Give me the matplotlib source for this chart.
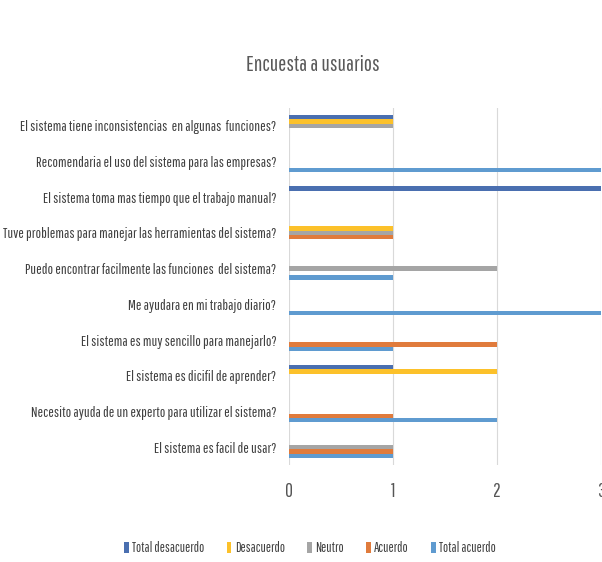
import numpy as np
import matplotlib.pyplot as plt

plt.rcParams['font.family'] = ['Pathway Gothic One', 'Saira Extra Condensed',
                               'Fira Sans Extra Condensed', 'DejaVu Sans']

# preguntas, de arriba hacia abajo
preguntas = [
    'El sistema tiene inconsistencias  en algunas  funciones?',
    'Recomendaria el uso del sistema para las empresas?',
    'El sistema toma mas tiempo que el trabajo manual?',
    'Tuve problemas para manejar las herramientas del sistema?',
    'Puedo encontrar facilmente las funciones  del sistema?',
    'Me ayudara en mi trabajo diario?',
    'El sistema es muy sencillo para manejarlo?',
    'El sistema es dicifil de aprender?',
    'Necesito ayuda de un experto para utilizar el sistema?',
    'El sistema es facil de usar?',
]

total_desacuerdo = [1, 0, 3, 0, 0, 0, 0, 1, 0, 0]
desacuerdo       = [1, 0, 0, 1, 0, 0, 0, 2, 0, 0]
neutro           = [1, 0, 0, 1, 2, 0, 0, 0, 0, 1]
acuerdo          = [0, 0, 0, 1, 0, 0, 2, 0, 1, 1]
total_acuerdo    = [0, 3, 0, 0, 1, 3, 1, 0, 2, 1]

series = [
    ('Total desacuerdo', total_desacuerdo, '#4a6fb0'),
    ('Desacuerdo', desacuerdo, '#fcc12a'),
    ('Neutro', neutro, '#a5a5a5'),
    ('Acuerdo', acuerdo, '#e07b3c'),
    ('Total acuerdo', total_acuerdo, '#5f9bd0'),
]

fig = plt.figure(figsize=(6.02, 5.62), dpi=100)
r = fig.canvas.get_renderer()


def ancho(texto, fs):
    t = fig.text(0, 0, texto, fontsize=fs)
    w = t.get_window_extent(r).width
    t.remove()
    return w


# tamaños de letra ajustados al ancho del original
fs_lbl = 10 * 274 / ancho(preguntas[3], 10)
fs_tit = 18 * 134 / ancho('Encuesta a usuarios', 18)
fs_leg = 10 * 72 / ancho('Total desacuerdo', 10)

ax = fig.add_axes([289 / 602, 1 - 465 / 562, 312 / 602, 357 / 562])

n = len(preguntas)
y = np.arange(n)[::-1]
h = 0.122
for i, (nombre, vals, color) in enumerate(series):
    off = (i - 2) * h
    ax.barh(y - off, vals, height=h, color=color, label=nombre)

ax.set_xlim(0, 3)
ax.set_ylim(-0.5, n - 0.5)
ax.set_yticks(y)
ax.set_yticklabels(preguntas, fontsize=fs_lbl, color='#404040')
ax.set_xticks([0, 1, 2, 3])
ax.tick_params(axis='both', length=0)
ax.tick_params(axis='y', pad=9)
ax.tick_params(axis='x', pad=12, labelsize=fs_lbl * 1.3, labelcolor='#555555')
ax.grid(axis='x', color='#d9d9d9', linewidth=0.8)
ax.set_axisbelow(True)
for s in ax.spines.values():
    s.set_visible(False)

fig.text(313 / 602, 1 - 65 / 562, 'Encuesta a usuarios', ha='center', va='center',
         fontsize=fs_tit, color='#595959')

handles, labels = ax.get_legend_handles_labels()
fig.legend(handles, labels, loc='center', bbox_to_anchor=(310 / 602, 1 - 548 / 562),
           ncol=5, frameon=False, fontsize=fs_leg, handlelength=0.35, handleheight=0.9,
           handletextpad=0.25, columnspacing=1.6, labelcolor='#404040')

fig.savefig('out.png', dpi=100)
